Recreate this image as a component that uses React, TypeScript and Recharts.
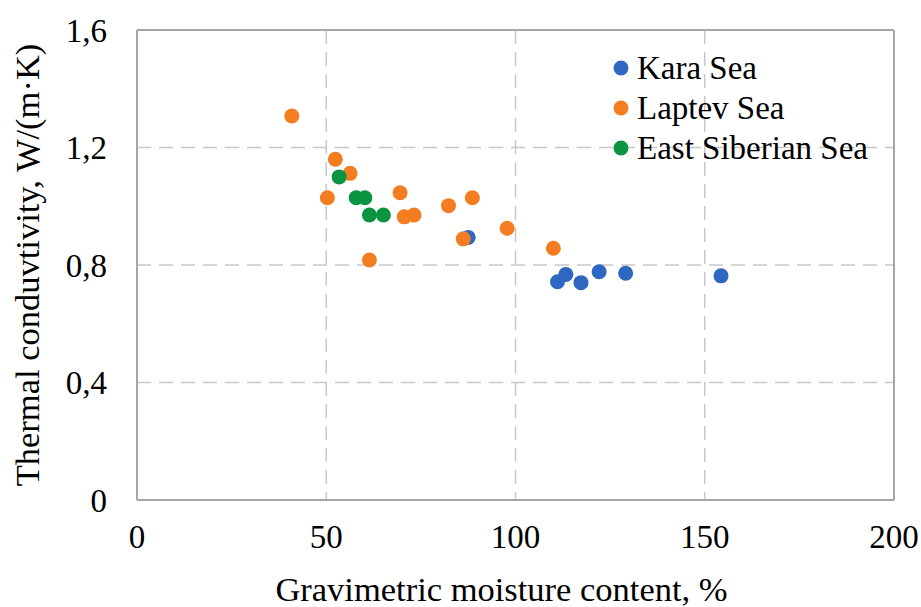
import React from 'react';
import { ScatterChart, Scatter, XAxis, YAxis, CartesianGrid, ReferenceLine } from 'recharts';

const karaSea = [
  { x: 87.5, y: 0.894 },
  { x: 111.1, y: 0.743 },
  { x: 113.3, y: 0.768 },
  { x: 117.3, y: 0.74 },
  { x: 122.1, y: 0.777 },
  { x: 129.1, y: 0.772 },
  { x: 154.3, y: 0.763 },
];

const laptevSea = [
  { x: 40.9, y: 1.307 },
  { x: 52.4, y: 1.16 },
  { x: 56.3, y: 1.112 },
  { x: 50.3, y: 1.029 },
  { x: 69.5, y: 1.046 },
  { x: 70.6, y: 0.964 },
  { x: 73.2, y: 0.97 },
  { x: 82.3, y: 1.002 },
  { x: 88.6, y: 1.029 },
  { x: 86.2, y: 0.889 },
  { x: 61.4, y: 0.817 },
  { x: 97.8, y: 0.925 },
  { x: 110.0, y: 0.857 },
];

const eastSiberianSea = [
  { x: 53.4, y: 1.1 },
  { x: 57.9, y: 1.029 },
  { x: 60.2, y: 1.029 },
  { x: 61.4, y: 0.97 },
  { x: 65.1, y: 0.97 },
];

const xTicks = [0, 50, 100, 150, 200];
const yTicks = [0, 0.4, 0.8, 1.2, 1.6];

const seriesNames = ['Kara Sea', 'Laptev Sea', 'East Siberian Sea'];
const colors = ['#2E67C2', '#F47D22', '#0A9340'];

const FONT = 'Liberation Serif, DejaVu Serif, Times New Roman, serif';

const W = 921;
const H = 607;

const dot = (color: string) => (props: any) => (
  <circle cx={props.cx} cy={props.cy} r={7.5} fill={color} />
);

const fmtY = (v: number) => (v === 0 ? '0' : v.toFixed(1).replace('.', ','));

const LegendBox = () => (
  <div
    style={{
      position: 'absolute',
      left: 613,
      top: 48,
      fontFamily: FONT,
      fontSize: 33,
      color: '#000',
      lineHeight: '40px',
    }}
  >
    {seriesNames.map((n, i) => (
      <div key={n} style={{ display: 'flex', alignItems: 'center', whiteSpace: 'nowrap', height: 40 }}>
        <svg width={24} height={20} style={{ flex: 'none' }}>
          <circle cx={8} cy={10} r={7.5} fill={colors[i]} />
        </svg>
        <span>{n}</span>
      </div>
    ))}
  </div>
);

export default function App() {
  return (
    <div style={{ position: 'relative', background: '#fff', width: W, height: H, fontFamily: FONT }}>
      <style>{`html, body { margin: 0; padding: 0; overflow: hidden; }`}</style>
      <ScatterChart
        width={W}
        height={H}
        margin={{ top: 30, right: 27, bottom: 0, left: 0 }}
        style={{ fontFamily: FONT }}
      >
        <CartesianGrid
          stroke="#C8C8C8"
          strokeWidth={1.5}
          strokeDasharray="14 8"
          horizontalValues={[0.4, 0.8, 1.2]}
          verticalValues={[50, 100, 150]}
        />
        <XAxis
          type="number"
          dataKey="x"
          domain={[0, 200]}
          ticks={xTicks}
          axisLine={{ stroke: '#A6A6A6', strokeWidth: 2 }}
          tickLine={false}
          tickMargin={19}
          height={107}
          tick={{ fontFamily: FONT, fontSize: 33, fill: '#000' }}
          label={{
            value: 'Gravimetric moisture content, %',
            position: 'insideBottom',
            offset: 6,
            dx: -14,
            style: { fontFamily: FONT, fontSize: 34.5, fill: '#000' },
          }}
        />
        <YAxis
          type="number"
          dataKey="y"
          domain={[0, 1.6]}
          ticks={yTicks}
          tickFormatter={fmtY}
          axisLine={{ stroke: '#A6A6A6', strokeWidth: 2 }}
          tickLine={false}
          tickMargin={24}
          width={137}
          tick={{ fontFamily: FONT, fontSize: 33, fill: '#000' }}
          label={{
            value: 'Thermal conduvtivity, W/(m·K)',
            angle: -90,
            position: 'insideLeft',
            offset: 27,
            style: { fontFamily: FONT, fontSize: 34.5, fill: '#000', textAnchor: 'middle' },
          }}
        />
        <ReferenceLine y={1.6} stroke="#A6A6A6" strokeWidth={2} />
        <ReferenceLine x={200} stroke="#A6A6A6" strokeWidth={2} />
        <Scatter name={seriesNames[0]} data={karaSea} fill={colors[0]} shape={dot(colors[0])} isAnimationActive={false} />
        <Scatter name={seriesNames[1]} data={laptevSea} fill={colors[1]} shape={dot(colors[1])} isAnimationActive={false} />
        <Scatter name={seriesNames[2]} data={eastSiberianSea} fill={colors[2]} shape={dot(colors[2])} isAnimationActive={false} />
      </ScatterChart>
      <LegendBox />
    </div>
  );
}
